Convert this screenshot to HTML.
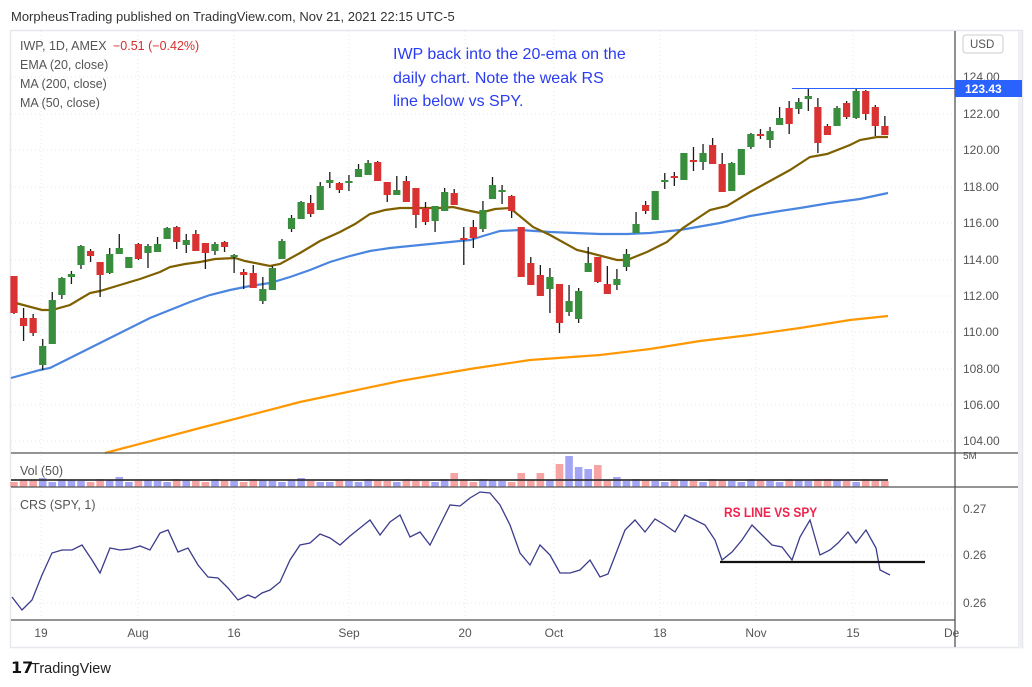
<!DOCTYPE html>
<html><head><meta charset="utf-8">
<style>
html,body{margin:0;padding:0;background:#fff;width:1032px;height:687px;overflow:hidden}
svg{display:block}
text{font-family:"Liberation Sans",sans-serif}
</style></head><body>
<svg id="s" width="1032" height="687" viewBox="0 0 1032 687" xmlns="http://www.w3.org/2000/svg">
<rect x="0" y="0" width="1032" height="687" fill="#fff"/>
<text x="11" y="21" font-size="13" fill="#333">MorpheusTrading published on TradingView.com, Nov 21, 2021 22:15 UTC-5</text>
<rect x="10.5" y="30.5" width="1012" height="617" fill="none" stroke="#e6e8ee" stroke-width="1.5"/>
<g id="grid" stroke="#e8e8ec" stroke-dasharray="1,3" stroke-width="1"></g>
<g id="ma"></g>
<g id="candles"></g>
<g id="vol"></g>
<!-- pane separators -->
<line x1="11" y1="453" x2="1022" y2="453" stroke="#555" stroke-width="1.3"/>
<line x1="11" y1="487" x2="1022" y2="487" stroke="#555" stroke-width="1.3"/>
<line x1="11" y1="620" x2="955" y2="620" stroke="#555" stroke-width="1.3"/>
<line x1="955" y1="31" x2="955" y2="647" stroke="#555" stroke-width="1.3"/>
<rect x="1018" y="31" width="4" height="617" fill="#eef0f4"/>
<g id="axis" font-size="12" fill="#555"></g>
<!-- legend -->
<text x="20" y="50" font-size="12.5" fill="#555">IWP, 1D, AMEX</text>
<text x="113" y="50" font-size="12.5" fill="#d32f2f">−0.51 (−0.42%)</text>
<text x="20" y="69" font-size="12.5" fill="#555">EMA (20, close)</text>
<text x="20" y="88" font-size="12.5" fill="#555">MA (200, close)</text>
<text x="20" y="107" font-size="12.5" fill="#555">MA (50, close)</text>
<text x="393" y="59" font-size="16" fill="#2a3cf0">IWP back into the 20-ema on the</text>
<text x="393" y="83" font-size="16" fill="#2a3cf0">daily chart.  Note the weak RS</text>
<text x="393" y="106" font-size="16" fill="#2a3cf0">line below vs SPY.</text>
<!-- price line -->
<line x1="792" y1="88.5" x2="955" y2="88.5" stroke="#2962ff" stroke-width="1"/>
<rect x="955" y="80" width="67" height="17" fill="#2962ff"/>
<text x="965" y="93" font-size="12" font-weight="bold" fill="#fff">123.43</text>
<rect x="963" y="35" width="40" height="18" rx="3" fill="#fff" stroke="#ccc"/>
<text x="970" y="48" font-size="11.5" fill="#555">USD</text>
<text x="20" y="475" font-size="12.5" fill="#555">Vol (50)</text>
<text x="20" y="509" font-size="12.5" fill="#555">CRS (SPY, 1)</text>
<polyline id="crs" fill="none" stroke="#3c3c8c" stroke-width="1.3"/>
<line x1="720" y1="562" x2="925" y2="562" stroke="#111" stroke-width="2.2"/>
<text x="724" y="517" font-size="14" font-weight="bold" fill="#f0244f" transform="translate(724 0) scale(0.85 1) translate(-724 0)">RS LINE VS SPY</text>
<g id="taxis" font-size="12" fill="#555"></g>
<!-- logo -->
<text x="11" y="673" font-size="16" font-weight="bold" fill="#111">𝟭𝟳</text>
<text x="31" y="673" font-size="14.5" fill="#222">TradingView</text>
</svg>
<script>
var NS="http://www.w3.org/2000/svg";
function el(p,t,a,txt){var e=document.createElementNS(NS,t);for(var k in a)e.setAttribute(k,a[k]);if(txt!=null)e.textContent=txt;document.getElementById(p).appendChild(e);return e;}
// grid
var py=[77,114,150,187,223,260,296,332,369,405,441];
py.forEach(function(y){el('grid','line',{x1:11,y1:y,x2:955,y2:y});});
[509,555,603].forEach(function(y){el('grid','line',{x1:11,y1:y,x2:955,y2:y});});
var tx=[41,138,234,349,465,554,660,756,853];
tx.forEach(function(x){el('grid','line',{x1:x,y1:31,x2:x,y2:620});});
// axis labels
var pl=["124.00","122.00","120.00","118.00","116.00","114.00","112.00","110.00","108.00","106.00","104.00"];
pl.forEach(function(t,i){el('axis','text',{x:963,y:py[i]+4},t);});
el('axis','text',{x:963,y:45},"12");
el('axis','text',{x:963,y:459,'font-size':10},"5M");
el('axis','text',{x:963,y:513},"0.27");
el('axis','text',{x:963,y:559},"0.26");
el('axis','text',{x:963,y:607},"0.26");
var tl=["19","Aug","16","Sep","20","Oct","18","Nov","15"];
tl.forEach(function(t,i){el('taxis','text',{x:tx[i],y:637,'text-anchor':'middle'},t);});
el('taxis','text',{x:944,y:637},"De");
// MAs
function pl2(a){return a.map(function(p){return p.join(',');}).join(' ');}
var ema=[[12,302],[42,310],[52,310],[70,305],[90,293],[100,291],[120,285],[140,279],[160,272],[170,267],[185,264],[200,262],[215,259],[235,258],[245,261],[260,264],[270,266],[280,264],[300,253],[320,241],[340,232],[355,224],[370,214],[385,210],[400,208],[420,208],[440,208],[453,207],[466,210],[480,213],[495,209],[510,208],[533,227],[550,235],[577,250],[590,253],[617,260],[627,260],[647,252],[667,242],[683,228],[710,210],[727,206],[750,192],[770,181],[790,170],[810,157],[827,154],[850,145],[860,140],[877,137],[888,137]];
var m50=[[11,378],[40,370],[50,368],[70,358],[90,348],[110,338],[130,328],[150,318],[170,310],[190,302],[210,295],[230,290],[250,286],[270,283],[290,277],[310,270],[330,262],[350,256],[370,251],[390,248],[410,246],[440,243],[470,240],[483,236],[500,231],[520,230],[550,232],[600,234],[627,234],[650,233],[680,230],[720,223],[750,216],[780,211],[800,208],[830,203],[860,199],[888,193]];
var m200=[[105,453],[200,428],[300,402],[400,381],[470,369],[530,360],[600,355],[650,349],[700,341],[750,335],[800,328],[850,320],[888,316]];
el('ma','polyline',{points:pl2(m200),fill:'none',stroke:'#ff9800',"stroke-width":2.2});
el('ma','polyline',{points:pl2(m50),fill:'none',stroke:'#4a86e0',"stroke-width":2.2});
el('ma','polyline',{points:pl2(ema),fill:'none',stroke:'#7f6000',"stroke-width":2.2});
// candles
var C="r 276 313 276 314|r 318 326 308 341|r 318 333 314 336|g 346 365 339 370|g 300 344 292 344|g 278 295 277 299|g 274 277 271 284|g 246 265 245 269|r 251 256 249 262|r 262 275 262 297|g 254 273 248 274|g 248 254 234 254|g 257 268 257 268|r 244 259 243 260|g 246 253 244 268|g 244 252 237 252|g 228 239 227 239|r 227 242 226 249|g 240 245 234 253|r 234 251 230 251|r 243 253 243 269|g 244 251 242 255|r 242 247 241 252|g 255 257 254 273|r 272 275 269 289|r 273 288 265 288|g 289 301 277 304|g 268 290 266 290|g 241 259 239 259|g 218 229 215 232|g 202 219 201 219|r 203 214 195 217|g 186 210 182 210|g 180 183 172 188|r 183 190 182 193|g 181 183 175 191|g 169 177 164 177|g 163 175 160 175|r 162 181 161 181|r 182 195 182 202|g 190 195 176 195|r 181 202 176 202|r 188 215 188 228|r 208 222 202 225|g 206 221 206 232|g 192 211 188 211|r 193 205 189 205|r 238 240 227 265|r 227 238 220 248|g 210 229 201 232|g 185 199 177 199|g 190 192 185 204|r 196 211 195 218|r 227 277 227 277|r 263 285 257 285|r 275 296 265 296|g 277 289 268 313|r 284 323 284 333|g 301 312 285 316|g 291 319 288 323|g 263 272 247 272|r 257 282 257 283|r 284 294 266 294|g 279 285 269 290|g 254 267 249 271|g 224 233 212 233|r 205 211 201 214|g 191 220 191 220|g 180 182 173 189|r 176 178 172 186|g 153 180 153 180|r 160 162 147 171|g 153 162 144 170|r 145 164 138 164|r 164 192 153 192|g 163 191 162 191|g 149 175 149 175|g 134 147 133 149|r 134 136 129 139|g 131 140 127 148|g 118 125 107 125|r 108 124 101 134|g 102 109 98 114|g 96 99 89 111|r 107 143 98 153|r 126 135 124 135|g 108 126 106 126|r 103 117 101 119|g 91 118 89 119|r 91 114 90 120|r 107 126 105 136|r 126 135 116 135".split('|');
var vh={1:7,3:9,11:10,13:6,29:7,30:9,33:5,46:14,47:8,53:14,55:14,56:7,57:23,58:31,59:20,60:18,61:22,63:10,64:6,79:6,84:8};
C.forEach(function(s,i){
  var p=s.split(' '),x=14+9.57*i,bt=+p[1],bb=+p[2],wt=+p[3],wb=+p[4];
  var col=p[0]=='g'?'#388e3c':'#d83232';
  el('candles','line',{x1:x,y1:wt,x2:x,y2:wb,stroke:'#1a1a1a','stroke-width':1.3});
  el('candles','rect',{x:x-3.6,y:bt,width:7.2,height:Math.max(2,bb-bt),fill:col});
  var h=vh[i]||(5+((i*7)%4));
  el('vol','rect',{x:x-3.8,y:487-h,width:7.6,height:h,fill:p[0]=='g'?'#a4a4f5':'#f5a3a3'});
});
el('vol','line',{x1:11,y1:480,x2:888,y2:480,stroke:'#333','stroke-width':1.8});
var crs=[[12,597],[22,610],[32,600],[42,575],[52,553],[62,550],[72,550],[82,545],[92,560],[100,573],[110,548],[120,550],[130,549],[140,546],[150,550],[160,533],[168,530],[178,552],[188,548],[198,565],[208,577],[218,578],[228,588],[238,600],[248,595],[255,598],[262,593],[270,590],[280,582],[290,560],[300,545],[310,543],[320,534],[330,538],[340,545],[350,536],[360,528],[370,520],[380,535],[390,522],[400,515],[410,537],[420,532],[430,545],[440,525],[450,505],[460,506],[470,498],[480,492],[490,493],[500,505],[510,525],[520,553],[530,565],[540,545],[550,555],[560,573],[570,573],[580,570],[590,560],[600,577],[608,574],[615,556],[625,530],[635,520],[645,532],[655,519],[665,525],[675,532],[685,515],[695,520],[705,525],[715,540],[722,560],[732,552],[742,540],[752,525],[762,535],[772,545],[782,547],[792,560],[800,537],[810,520],[820,555],[830,550],[838,543],[848,532],[856,543],[866,530],[876,548],[880,570],[890,575]];
document.getElementById('crs').setAttribute('points',pl2(crs));
</script>
</body></html>
